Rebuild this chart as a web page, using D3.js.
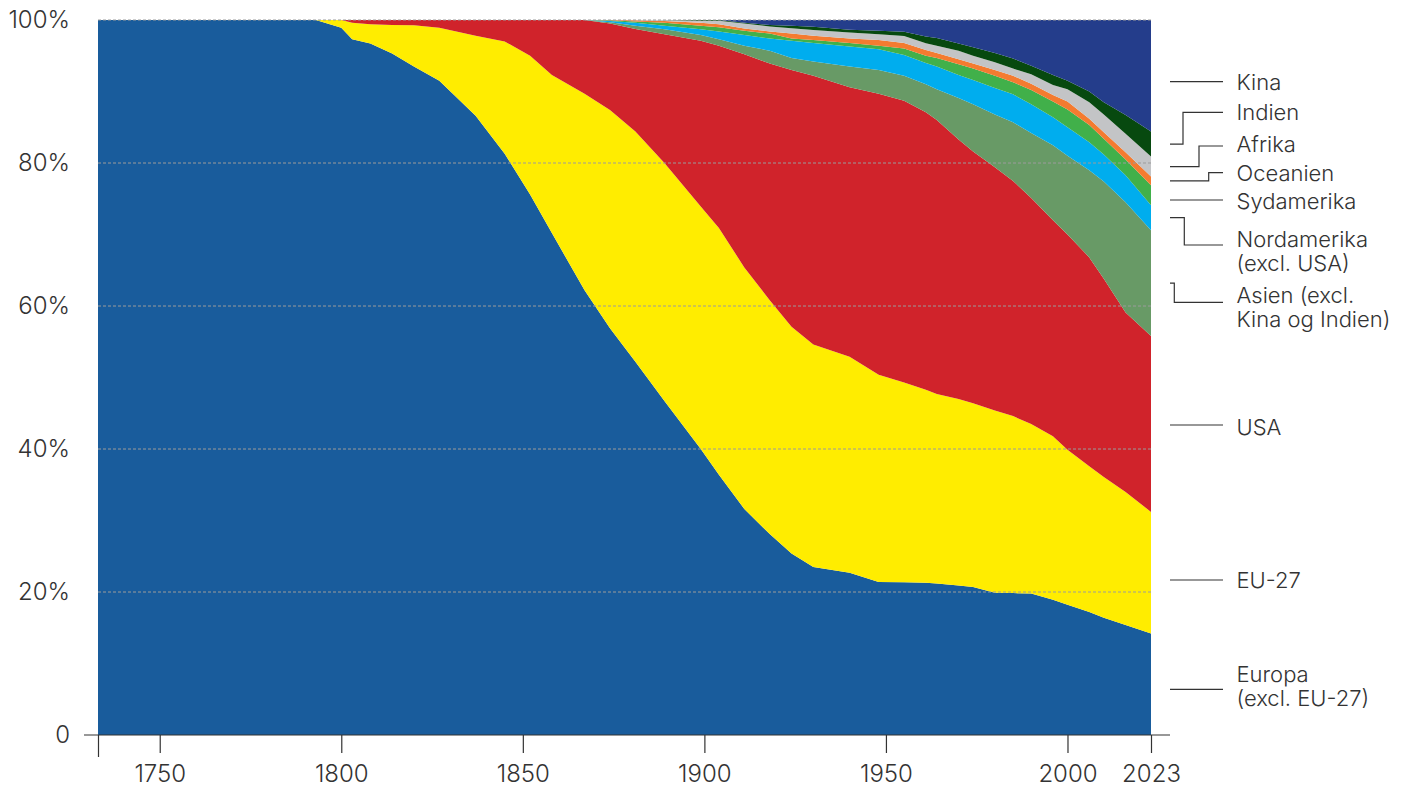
<!DOCTYPE html>
<html>
<head>
<meta charset="utf-8">
<script src="https://cdn.jsdelivr.net/npm/d3@7"></script>
<style>
  body { margin: 0; background: #fff; }
  text { font-family: Inter, "Noto Sans", sans-serif; font-weight: 300; fill: #333; }
</style>
</head>
<body>
<svg id="chart" width="1403" height="787"></svg>
<script>
// share of cumulative CO2 emissions (%)
const years = [1733, 1760, 1793, 1800, 1803, 1808, 1814, 1820, 1827, 1837, 1845, 1852, 1858, 1867,
  1874, 1881, 1889, 1899, 1904, 1911, 1918, 1924, 1930, 1940, 1948, 1955, 1961, 1964, 1970,
  1974, 1980, 1985, 1990, 1996, 2000, 2006, 2010, 2016, 2023];

const europa = [100, 100, 100, 98.9, 97.3, 96.7, 95.3, 93.5, 91.5, 86.6, 81.3, 75.6, 70.2, 62.2,
  56.9, 52.2, 46.7, 40.0, 36.4, 31.6, 28.1, 25.4, 23.5, 22.7, 21.4, 21.35, 21.3, 21.2, 20.9,
  20.7, 19.9, 19.85, 19.8, 18.9, 18.2, 17.2, 16.4, 15.4, 14.2];
const eu27 = [0, 0, 0, 1.1, 2.3, 2.7, 4.0, 5.75, 7.4, 11.2, 15.7, 19.4, 22.1, 27.5,
  30.5, 32.2, 33.3, 33.9, 34.5, 33.8, 32.7, 31.7, 31.1, 30.2, 29.0, 27.95, 27.0, 26.5, 26.1,
  25.7, 25.5, 24.75, 23.7, 22.9, 21.7, 20.4, 19.7, 18.6, 17.0];
const usa = [0, 0, 0, 0, 0.4, 0.6, 0.7, 0.75, 1.1, 2.2, 3.0, 5.0, 7.7, 10.3,
  12.1, 14.35, 18.0, 23.2, 25.5, 29.8, 33.1, 35.9, 37.6, 37.7, 39.3, 39.4, 38.8, 38.3, 36.3,
  35.2, 34.0, 32.9, 31.6, 30.2, 30.1, 29.2, 27.7, 25.1, 24.6];
const asien = [0, 0, 0, 0, 0, 0, 0, 0, 0, 0, 0, 0, 0, 0,
  0.2, 0.45, 0.7, 0.8, 0.9, 1.2, 1.8, 1.7, 2.0, 2.9, 3.3, 3.5, 3.9, 4.3, 5.8,
  6.6, 7.4, 8.2, 9.1, 10.5, 11.0, 12.2, 13.6, 15.4, 14.8];
const nordamerika = [0, 0, 0, 0, 0, 0, 0, 0, 0, 0, 0, 0, 0, 0,
  0.15, 0.4, 0.5, 0.8, 1.1, 1.5, 1.7, 2.4, 2.6, 2.8, 2.9, 2.9, 3.0, 3.2, 3.2,
  3.4, 3.7, 3.9, 4.0, 3.9, 4.0, 3.9, 3.8, 3.8, 3.5];
const sydamerika = [0, 0, 0, 0, 0, 0, 0, 0, 0, 0, 0, 0, 0, 0,
  0.1, 0.2, 0.4, 0.5, 0.6, 0.6, 0.7, 0.3, 0.4, 0.5, 0.5, 0.9, 1.0, 1.2, 1.5,
  1.6, 1.7, 1.7, 2.0, 2.2, 2.5, 2.4, 2.2, 2.2, 2.8];
const oceanien = [0, 0, 0, 0, 0, 0, 0, 0, 0, 0, 0, 0, 0, 0,
  0.05, 0.15, 0.25, 0.4, 0.4, 0.3, 0.3, 0.7, 0.6, 0.6, 0.8, 0.8, 0.8, 0.7, 0.7,
  0.7, 0.8, 0.9, 0.9, 0.9, 1.1, 0.9, 0.9, 1.0, 1.2];
const afrika = [0, 0, 0, 0, 0, 0, 0, 0, 0, 0, 0, 0, 0, 0,
  0, 0.05, 0.15, 0.3, 0.5, 0.7, 0.7, 0.75, 0.8, 0.85, 0.8, 0.95, 0.95, 1.0, 1.2,
  1.1, 1.1, 1.0, 1.3, 1.4, 1.7, 2.3, 2.5, 2.6, 2.8];
const indien = [0, 0, 0, 0, 0, 0, 0, 0, 0, 0, 0, 0, 0, 0,
  0, 0, 0, 0.1, 0.1, 0.1, 0.2, 0.35, 0.45, 0.4, 0.5, 0.6, 0.95, 1.1, 1.0,
  1.2, 1.3, 1.4, 1.2, 1.4, 1.2, 1.5, 1.7, 2.6, 3.5];
const kina = [0, 0, 0, 0, 0, 0, 0, 0, 0, 0, 0, 0, 0, 0,
  0, 0, 0, 0, 0, 0.4, 0.7, 0.8, 0.95, 1.35, 1.5, 1.65, 2.3, 2.5, 3.3,
  3.8, 4.6, 5.4, 6.4, 7.7, 8.5, 10.0, 11.5, 13.3, 15.6];

const keys = ["europa", "eu27", "usa", "asien", "nordamerika", "sydamerika", "oceanien", "afrika", "indien", "kina"];
const series = {europa, eu27, usa, asien, nordamerika, sydamerika, oceanien, afrika, indien, kina};
const labels = {
  kina: ["Kina"], indien: ["Indien"], afrika: ["Afrika"], oceanien: ["Oceanien"],
  sydamerika: ["Sydamerika"], nordamerika: ["Nordamerika", "(excl. USA)"],
  asien: ["Asien (excl.", "Kina og Indien)"], usa: ["USA"], eu27: ["EU-27"],
  europa: ["Europa", "(excl. EU-27)"]
};
const xTicks = [1733, 1750, 1800, 1850, 1900, 1950, 2000, 2023];
const yTicks = [0, 0.2, 0.4, 0.6, 0.8, 1];

const colors = {
  europa: "#195c9c", eu27: "#ffed00", usa: "#d0232b", asien: "#689a66", nordamerika: "#00adee",
  sydamerika: "#41b04a", oceanien: "#f47b30", afrika: "#c3c4c6", indien: "#07490f", kina: "#243d8b"
};

// legend layout: label line y, elbow x (null = straight line), first text line offset
const legendLayout = {
  kina: {y: 81.7, elbow: null, dy: 0},
  indien: {y: 112.3, elbow: 1183, dy: 0},
  afrika: {y: 146, elbow: 1199, dy: -2},
  oceanien: {y: 172.7, elbow: 1208.7, dy: 0},
  sydamerika: {y: 200, elbow: null, dy: 1},
  nordamerika: {y: 245, elbow: 1184.3, dy: -6},
  asien: {y: 302.3, elbow: 1174.3, dy: -7},
  usa: {y: 425, elbow: null, dy: 2},
  eu27: {y: 580, elbow: null, dy: 0},
  europa: {y: 689.3, elbow: null, dy: -15}
};

const width = 1403, height = 787;
const svg = d3.select("#chart");

const x = d3.scaleLinear().domain([1733, 2023]).range([98, 1151]);
const y = d3.scaleLinear().domain([0, 1]).range([735, 20]);

const rows = years.map((yr, i) => {
  const r = {year: yr};
  keys.forEach(k => r[k] = series[k][i]);
  return r;
});

const stacked = d3.stack().keys(keys).offset(d3.stackOffsetExpand)(rows);

const area = d3.area()
  .x(d => x(d.data.year))
  .y0(d => y(d[0]))
  .y1(d => y(d[1]));

svg.append("g")
  .attr("id", "areas")
  .selectAll("path")
  .data(stacked)
  .enter()
  .append("path")
  .attr("d", area)
  .attr("fill", d => colors[d.key]);

// dashed gridlines on top of the areas
svg.append("g")
  .attr("id", "grid")
  .selectAll("line")
  .data(yTicks.filter(d => d > 0))
  .enter()
  .append("line")
  .attr("x1", x(1733))
  .attr("x2", x(2023))
  .attr("y1", d => y(d))
  .attr("y2", d => y(d))
  .attr("stroke", "#9b9b9b")
  .attr("stroke-width", 1)
  .attr("stroke-dasharray", "3,2");

// y axis labels
const yAxis = d3.axisLeft(y)
  .tickValues(yTicks)
  .tickSize(0)
  .tickPadding(28)
  .tickFormat(d => d === 0 ? "0" : Math.round(d * 100) + "%");

svg.append("g")
  .attr("class", "axis")
  .attr("transform", `translate(${x(1733)},0)`)
  .call(yAxis)
  .call(g => g.select(".domain").remove())
  .selectAll("text")
  .style("font-size", "24px")
  .attr("fill", "#333");

// x axis
const xAxis = d3.axisBottom(x)
  .tickValues(xTicks)
  .tickSize(18)
  .tickPadding(12)
  .tickFormat(d => d === 1733 ? "" : d);

const xg = svg.append("g")
  .attr("class", "axis")
  .attr("transform", `translate(0,${y(0)})`)
  .call(xAxis);
xg.select(".domain").remove();
xg.selectAll(".tick line").attr("stroke", "#333").attr("stroke-width", 1.2);
xg.selectAll(".tick").filter(d => d === 1733).select("line").attr("y2", 22);
xg.selectAll("text").style("font-size", "24px").attr("fill", "#333");

svg.append("line")
  .attr("x1", 84).attr("x2", 1170)
  .attr("y1", y(0)).attr("y2", y(0))
  .attr("stroke", "#333").attr("stroke-width", 1.2);

// legend with leader lines from the 2023 layer middles
const last = rows.length - 1;
const legend = svg.append("g").attr("id", "legend");
stacked.forEach(s => {
  const k = s.key;
  const lay = legendLayout[k];
  const mid = y((s[last][0] + s[last][1]) / 2);
  const x0 = 1170, x1 = 1223;
  let pts;
  if (lay.elbow === null) {
    pts = [[x0, lay.y], [x1, lay.y]];
  } else {
    pts = [[x0, mid], [lay.elbow, mid], [lay.elbow, lay.y], [x1, lay.y]];
  }
  legend.append("path")
    .attr("d", d3.line()(pts))
    .attr("fill", "none")
    .attr("stroke", "#333")
    .attr("stroke-width", 1.2);

  const t = legend.append("text")
    .attr("x", 1236.5)
    .attr("y", lay.y + lay.dy + 8)
    .style("font-size", "22px");
  labels[k].forEach((line, i) => {
    t.append("tspan")
      .attr("x", 1236.5)
      .attr("dy", i === 0 ? 0 : 24)
      .text(line);
  });
});
</script>
</body>
</html>
